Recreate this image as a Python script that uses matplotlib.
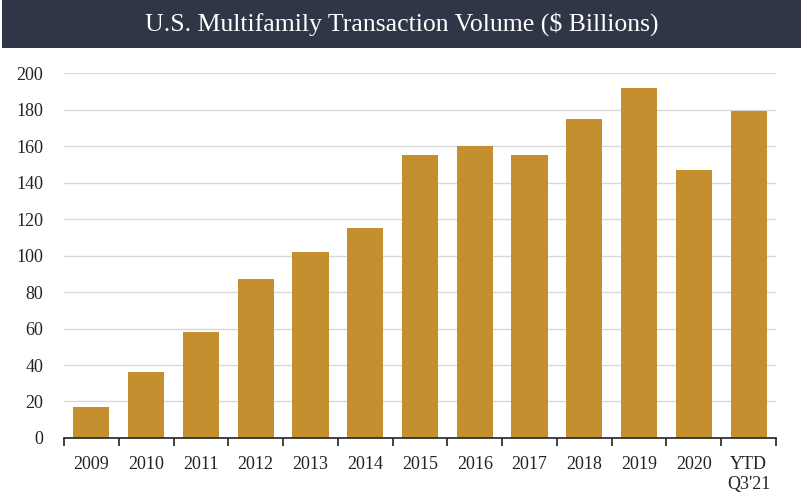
import matplotlib
matplotlib.use("Agg")
import matplotlib.pyplot as plt
from matplotlib.patches import Rectangle
import numpy as np

# Data
categories = ["2009", "2010", "2011", "2012", "2013", "2014", "2015",
              "2016", "2017", "2018", "2019", "2020", "YTD\nQ3'21"]
volume = [17, 36, 58, 87, 102, 115, 155, 160, 155, 175, 192, 147, 179]
y_ticks = [0, 20, 40, 60, 80, 100, 120, 140, 160, 180, 200]

plt.rcParams['font.family'] = ['Liberation Serif', 'DejaVu Serif']

fig = plt.figure(figsize=(8.04, 4.94), dpi=100)

# Dark title band across the top
fig.patches.append(Rectangle((0.003, 0.903), 0.993, 0.097, transform=fig.transFigure,
                             facecolor="#2f3746", edgecolor="none", zorder=0))
fig.text(0.5, 0.951, "U.S. Multifamily Transaction Volume ($ Billions)",
         ha="center", va="center", color="white", fontsize=18.5)

ax = fig.add_axes([0.0796, 0.1134, 0.8856, 0.7386])
x = np.arange(len(categories))
ax.bar(x, volume, width=0.66, color="#c48f2e", zorder=3)

ax.set_xlim(-0.5, len(categories) - 0.5)
ax.set_ylim(0, 200)
ax.set_yticks(y_ticks)
ax.tick_params(axis="y", length=0, labelsize=13, pad=15, colors="#222222")
ax.yaxis.grid(True, color="#d9d9d9", linewidth=1, zorder=0)

ax.set_xticks(x)
ax.set_xticklabels(categories, fontsize=13, color="#222222", va="top", linespacing=1.2)
ax.tick_params(axis="x", length=0, pad=13)
ax.set_xticks(np.arange(len(categories) + 1) - 0.5, minor=True)
ax.tick_params(axis="x", which="minor", length=6, width=1.2, color="#222222", direction="out")

for s in ["top", "right", "left"]:
    ax.spines[s].set_visible(False)
ax.spines["bottom"].set_color("#222222")
ax.spines["bottom"].set_linewidth(1.2)
ax.spines["bottom"].set_zorder(4)

fig.savefig("out.png", dpi=100)
